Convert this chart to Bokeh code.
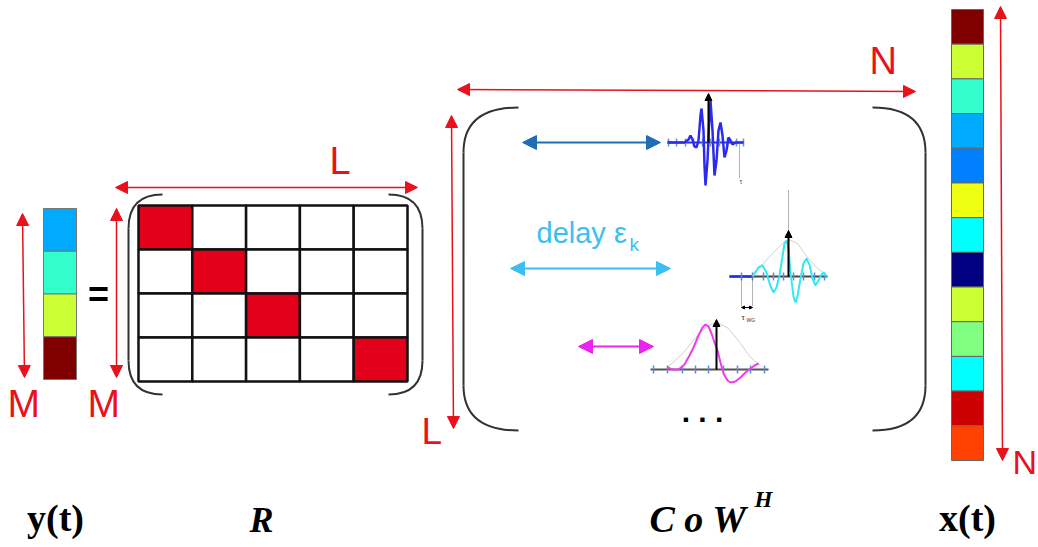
from bokeh.plotting import figure
from bokeh.models import Range1d, Arrow, NormalHead
from bokeh.core.properties import value
from bokeh.embed import file_html
from bokeh.resources import INLINE

# ---------------- data ----------------
y_colors = ["#00AAFF", "#33FFCC", "#CCFF33", "#800000"]
x_colors = ["#800000", "#CCFF33", "#33FFCC", "#00AAFF", "#0080FF", "#EEFF11",
            "#00FFFF", "#000080", "#CCFF33", "#80FF80", "#00FFFF", "#CC0000", "#FF4000"]
R_rows, R_cols = 4, 5
red_cells = [(0, 0), (1, 1), (2, 2), (3, 4)]   # (row, col)

# waveform points (x, y in page px)
blue_wx = [667, 684, 688, 690, 692, 694, 696, 698, 700, 701, 703, 704, 705, 707, 709, 710, 712, 714,
           716, 718, 720, 722, 724, 726, 728, 730, 732, 735, 743]
blue_wy = [142, 142, 139, 135, 139, 146, 147, 140, 115, 108, 130, 165, 185, 160, 115, 100, 130, 175,
           160, 130, 122, 135, 157, 150, 137, 140, 144, 142, 142]
blue_ticks = [668, 676, 685, 693, 702, 710, 719, 727, 736, 743]

cyan_wx = [752, 755, 758, 762, 766, 770, 773, 776, 779, 782, 784, 786, 788, 790, 793, 795, 797, 800,
           803, 806, 809, 812, 815, 818, 821, 823, 826]
cyan_wy = [276, 272, 267, 265, 272, 286, 292, 287, 275, 256, 243, 240, 248, 272, 296, 302, 296, 278,
           263, 258, 264, 278, 285, 280, 274, 272, 276]
cyan_env_x = [752, 763, 773, 783, 788, 797, 807, 817, 826]
cyan_env_y = [273, 263, 252, 242, 239, 243, 257, 268, 274]
cyan_ticks = [741, 752, 763, 773, 783, 793, 803, 814, 824]

mag_wx = [667, 672, 678, 684, 689, 693, 698, 702, 705, 708, 711, 714, 717, 720, 723, 727, 730, 735,
          740, 745, 750, 754, 758]
mag_wy = [367, 369, 369, 364, 355, 347, 335, 327, 324, 326, 333, 342, 350, 362, 373, 380, 382, 381,
          377, 372, 368, 365, 363]
mag_env_x = [667, 683, 697, 707, 717, 728, 740, 750, 760]
mag_env_y = [367, 352, 335, 325, 322, 328, 343, 357, 365]
mag_ticks = [653, 667, 682, 695, 708, 723, 737, 750, 764]

bottom_labels = ["y(t)", "R", "C o W", "x(t)"]

RED = "#E8111C"

# ---------------- figure ----------------
p = figure(width=1038, height=547, x_range=Range1d(0, 1038), y_range=Range1d(547, 0),
           output_backend="svg", toolbar_location=None, min_border=0)
p.axis.visible = False
p.grid.visible = False
p.outline_line_color = None
p.background_fill_color = "white"


def darrow(x0, y0, x1, y1, color, size=12, lw=1.5, both=True):
    head = lambda: NormalHead(size=size, fill_color=color, line_color=color, line_width=1)
    kw = dict(end=head(), x_start=x0, y_start=y0, x_end=x1, y_end=y1,
              line_color=color, line_width=lw)
    if both:
        kw["start"] = head()
    p.add_layout(Arrow(**kw))


def label(x, y, t, size, color="black", font="Liberation Sans", style="normal", align="left"):
    # y is the wanted baseline; correct for the renderer's baseline offset
    p.text(x=[x], y=[y - 0.36 * size], text=[t], text_font=value(font),
           text_font_size=f"{size}px", text_color=color, text_font_style=style,
           text_align=align, text_baseline="alphabetic")


def bracket(xe, xs, y_top, y_bot, r):
    # xe: end x of bracket arms, xs: x of straight side
    p.quadratic(x0=[xe, xs], y0=[y_top, y_bot - r], x1=[xs, xe], y1=[y_top + r, y_bot],
                cx=[xs, xs], cy=[y_top, y_bot], line_color="#333333", line_width=2)
    p.line([xs, xs], [y_top + r, y_bot - r], line_color="#333333", line_width=2)


# ---- y(t) column ----
yc_x0, yc_x1, yc_top, yc_bot = 43, 76, 208, 379
h = (yc_bot - yc_top) / len(y_colors)
p.quad(left=[yc_x0] * len(y_colors), right=[yc_x1] * len(y_colors),
       top=[yc_top + i * h for i in range(len(y_colors))],
       bottom=[yc_top + (i + 1) * h for i in range(len(y_colors))],
       fill_color=y_colors, line_color="#777777", line_width=1)
darrow(22, 213, 24, 377, RED)
label(7, 417, "M", 39, RED)
label(98, 307, "=", 36, "black", style="bold", align="center")

# ---- R matrix ----
mx0, mx1, my0, my1 = 138, 407, 205, 381
cw = (mx1 - mx0) / R_cols
rh = (my1 - my0) / R_rows
p.quad(left=[mx0 + c * cw for r in range(R_rows) for c in range(R_cols)],
       right=[mx0 + (c + 1) * cw for r in range(R_rows) for c in range(R_cols)],
       top=[my0 + r * rh for r in range(R_rows) for c in range(R_cols)],
       bottom=[my0 + (r + 1) * rh for r in range(R_rows) for c in range(R_cols)],
       fill_color=["#E2001A" if (r, c) in red_cells else "white"
                   for r in range(R_rows) for c in range(R_cols)],
       line_color="#111111", line_width=2.5)
bracket(162, 128, 194, 394, 34)
bracket(388, 422, 194, 394, 34)
darrow(116, 208, 116, 377, RED)
label(87, 417, "M", 39, RED)
darrow(115, 187, 417, 187, RED)
label(329, 174, "L", 38, RED)

# ---- C o W^H block ----
bracket(518, 463, 107, 430, 45)
bracket(872, 925, 107, 430, 45)
darrow(457, 89, 915, 91, RED)
label(869, 74, "N", 38, RED)
darrow(451, 115, 453, 428, RED)
label(421, 444, "L", 37, RED)

# blue row
darrow(522, 142, 660, 142, "#1F6EB5", size=14, lw=2)
p.line([667, 743], [142, 142], line_color="#2233DD", line_width=2)
p.segment(x0=blue_ticks, y0=[138] * len(blue_ticks), x1=blue_ticks, y1=[146] * len(blue_ticks),
          line_color="#6A8FD8", line_width=1.5)
p.line(blue_wx, blue_wy, line_color="#2B2BF0", line_width=2.5)
darrow(708, 142, 708, 93, "black", size=7, lw=2, both=False)
p.line([739, 739], [142, 178], line_color="#666666", line_width=1, line_dash="1 1")
label(739, 184, "τ", 7, "#555555")

# cyan row
label(536, 243, "delay ε", 29, "#3BBFF0", font="Liberation Sans")
label(629, 251, "k", 19, "#3BBFF0", font="Liberation Sans")
darrow(510, 268, 670, 268, "#3BBFF0", size=14, lw=2)
p.line(cyan_env_x, cyan_env_y, line_color="#D0D0D0", line_width=1)
p.line([729, 827], [276, 276], line_color="#444444", line_width=2)
p.line([729, 752], [276, 276], line_color="#2233DD", line_width=2.5)
p.segment(x0=cyan_ticks, y0=[272] * len(cyan_ticks), x1=cyan_ticks, y1=[280] * len(cyan_ticks),
          line_color="#5B8BD0", line_width=1.5)
p.line(cyan_wx, cyan_wy, line_color="#33E8F0", line_width=2)
p.line([788, 788], [190, 232], line_color="#666666", line_width=1, line_dash="1 1")
darrow(788, 276, 788, 230, "black", size=7, lw=2, both=False)
p.segment(x0=[741, 752], y0=[276, 276], x1=[741, 752], y1=[305, 305],
          line_color="#666666", line_width=1, line_dash="1 1")
darrow(741, 307, 752, 307, "black", size=3, lw=1)
label(741, 320, "τ", 8, "#333333")
label(746, 321, "WG", 5, "#333333")

# magenta row
darrow(578, 346, 653, 346, "#EE22EE", size=14, lw=2)
p.line(mag_env_x, mag_env_y, line_color="#D0D0D0", line_width=1)
p.line([650, 768], [369, 369], line_color="#555555", line_width=2)
p.segment(x0=mag_ticks, y0=[365] * len(mag_ticks), x1=mag_ticks, y1=[373] * len(mag_ticks),
          line_color="#5B8BD0", line_width=1.5)
p.line(mag_wx, mag_wy, line_color="#F03CF0", line_width=2)
darrow(716, 369, 716, 319, "black", size=7, lw=2, both=False)
label(702, 422, ". . .", 30, "black", style="bold", align="center")

# ---- x(t) column ----
xc_x0, xc_x1, xc_top, xc_bot = 951, 983, 9, 460
hx = (xc_bot - xc_top) / len(x_colors)
p.quad(left=[xc_x0] * len(x_colors), right=[xc_x1] * len(x_colors),
       top=[xc_top + i * hx for i in range(len(x_colors))],
       bottom=[xc_top + (i + 1) * hx for i in range(len(x_colors))],
       fill_color=x_colors, line_color="#666666", line_width=1)
darrow(1000, 6, 1002, 460, RED)
label(1012, 474, "N", 34, RED)

# ---- bottom labels ----
label(55, 531, bottom_labels[0], 38, "black", font="Liberation Serif", style="bold", align="center")
label(261, 532, bottom_labels[1], 36, "black", font="Liberation Serif", style="bold italic", align="center")
label(649, 532, bottom_labels[2], 38, "black", font="Liberation Serif", style="bold italic")
label(754, 507, "H", 23, "black", font="Liberation Serif", style="bold italic")
label(967, 531, bottom_labels[3], 38, "black", font="Liberation Serif", style="bold", align="center")

open("out.html", "w").write(file_html(p, INLINE))
